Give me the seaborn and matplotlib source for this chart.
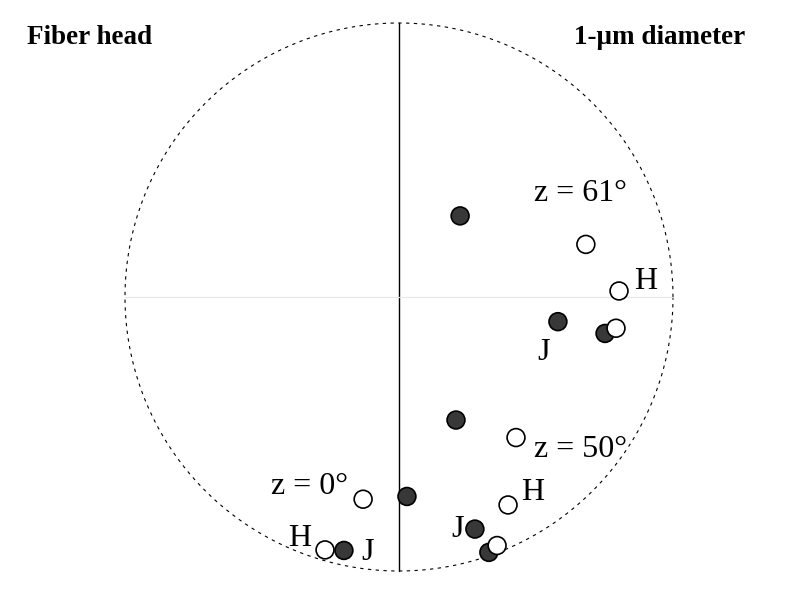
import numpy as np
import pandas as pd
import matplotlib
matplotlib.use("Agg")
import matplotlib.pyplot as plt
import seaborn as sns

# projected pole positions (unit circle coords)
filled_x = [0.223, 0.580, 0.752, 0.208, 0.029, 0.277, 0.328, -0.201]
filled_y = [0.296, -0.090, -0.133, -0.449, -0.728, -0.847, -0.932, -0.925]
open_x = [0.682, 0.803, 0.792, 0.427, 0.398, 0.358, -0.131, -0.270]
open_y = [0.192, 0.022, -0.114, -0.513, -0.759, -0.907, -0.738, -0.923]

labels = ["z = 61°", "H", "J", "z = 50°", "z = 0°", "H", "J", "H", "J"]
label_x = [0.661, 0.901, 0.526, 0.664, -0.325, 0.489, 0.212, -0.361, -0.113]
label_y = [0.379, 0.058, -0.204, -0.558, -0.693, -0.715, -0.850, -0.883, -0.931]

sns.set_theme(style="white")
plt.rcParams['font.family'] = ['Liberation Serif', 'DejaVu Serif']

df = pd.DataFrame({
    "x": filled_x + open_x,
    "y": filled_y + open_y,
    "kind": ["filled"] * len(filled_x) + ["open"] * len(open_x),
})

fig = plt.figure(figsize=(8.06, 6.04), dpi=100)
ax = fig.add_axes([0, 0, 1, 1])
R = 274.0
cx, cy = 399.0, 297.0
ax.set_xlim(-cx / R, (806 - cx) / R)
ax.set_ylim(-(604 - cy) / R, cy / R)
ax.axis("off")

# primitive circle (dashed) and reference lines
t = np.linspace(0, 2 * np.pi, 721)
ax.plot(np.cos(t), np.sin(t), color="black", lw=0.8, ls=(0, (3, 4)))
ax.plot([0, 0], [-1, 1], color="black", lw=1.0)
ax.plot([-1, 1], [0, 0], color="#e6e6e6", lw=0.8)

sns.scatterplot(data=df, x="x", y="y", hue="kind",
                palette={"filled": "#383838", "open": "white"},
                edgecolor="black", linewidth=1.2, s=165,
                legend=False, ax=ax, zorder=3)

for txt, lx, ly in zip(labels, label_x, label_y):
    ax.text(lx, ly, txt, fontsize=23, ha="center", va="center", color="black")

fig.text(27 / 806, 1 - 37 / 604, "Fiber head", fontsize=19.5, fontweight="bold",
         ha="left", va="center", color="black")
fig.text(745 / 806, 1 - 37 / 604, "1-μm diameter", fontsize=19.5, fontweight="bold",
         ha="right", va="center", color="black")

fig.savefig("out.png", dpi=100)
